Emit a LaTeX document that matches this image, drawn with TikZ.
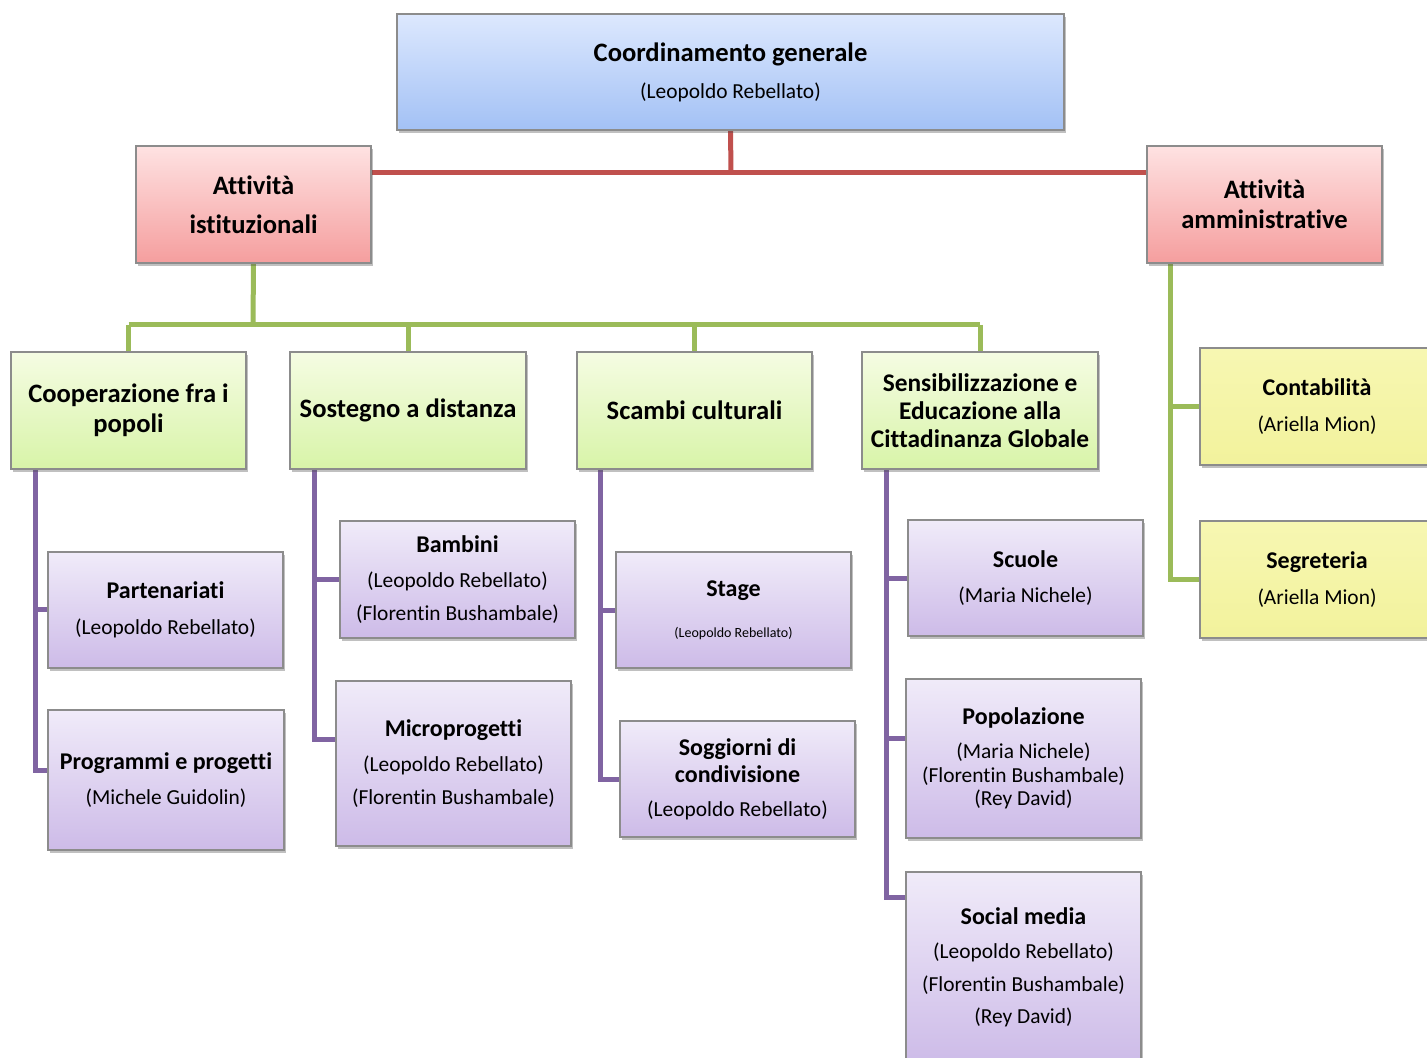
\documentclass[tikz,border=0pt]{standalone}
\usepackage{fontspec}
\setmainfont{Carlito}[Ligatures={NoCommon}]
\usetikzlibrary{shadows,backgrounds}
\definecolor{blueT}{HTML}{DDE8FE}
\definecolor{blueB}{HTML}{A3C1F5}
\definecolor{redT}{HTML}{FEE2E2}
\definecolor{redB}{HTML}{F59E9E}
\definecolor{greenT}{HTML}{F5FCE3}
\definecolor{greenB}{HTML}{D8F4A8}
\definecolor{yelT}{HTML}{F7F7B2}
\definecolor{yelB}{HTML}{F2F29C}
\definecolor{purT}{HTML}{F0EBF9}
\definecolor{purB}{HTML}{CDBBE8}
\definecolor{bordergray}{HTML}{8C8C8C}
\definecolor{lineRed}{HTML}{C0504D}
\definecolor{lineGreen}{HTML}{9BBB59}
\definecolor{linePur}{HTML}{8064A2}
\tikzset{
  x=0.5pt, y=-0.5pt,
  box/.style={draw=bordergray, line width=0.6pt, inner sep=0pt, outer sep=0pt,
    align=center, font=\fontsize{10.7}{12}\selectfont,
    drop shadow={shadow xshift=1.2pt, shadow yshift=-1.5pt, opacity=0.35, fill=black!70}},
  bluebox/.style={box, top color=blueT, bottom color=blueB},
  redbox/.style={box, top color=redT, bottom color=redB},
  greenbox/.style={box, top color=greenT, bottom color=greenB},
  yelbox/.style={box, top color=yelT, bottom color=yelB},
  purbox/.style={box, top color=purT, bottom color=purB},
  redline/.style={draw=lineRed, line width=2.5pt},
  greenline/.style={draw=lineGreen, line width=2.5pt},
  purline/.style={draw=linePur, line width=2.5pt},
}
\newcommand\hd[1]{{\fontsize{13.3}{12}\selectfont\bfseries #1}}
\newcommand\hm[1]{{\fontsize{12.7}{12}\selectfont\bfseries #1}}
\newcommand\hs[1]{{\fontsize{12}{12}\selectfont\bfseries #1}}
\newcommand\orgbox[7]{\node[#2, minimum width={(#5-#3)*0.5pt}, minimum height={(#6-#4)*0.5pt}] (#1) at ({(#3+#5)/2},{(#4+#6)/2}) {#7};}
\begin{document}
\begin{tikzpicture}
\useasboundingbox (0,0) rectangle (1427,1058);
\clip (0,0) rectangle (1427,1058);

\orgbox{coord}{bluebox}{397}{14}{1064}{130}{\hd{Coordinamento generale}\\[6.5pt](Leopoldo Rebellato)}
\orgbox{ai}{redbox}{136}{146}{371}{263}{\hd{Attività}\\[7.5pt]\hd{istituzionali}}
\orgbox{aa}{redbox}{1147}{146}{1382}{263}{\hd{Attività}\\[3pt]\hd{amministrative}}

\orgbox{g1}{greenbox}{11}{352}{246}{469}{\hd{Cooperazione fra i}\\[3pt]\hd{popoli}}
\orgbox{g2}{greenbox}{290}{352}{526}{469}{\hd{Sostegno a distanza}}
\orgbox{g3}{greenbox}{577}{352}{812}{469}{\hd{Scambi culturali}}
\orgbox{g4}{greenbox}{862}{352}{1098}{469}{\hm{Sensibilizzazione e}\\[2pt]\hm{Educazione alla}\\[2pt]\hm{Cittadinanza Globale}}

\orgbox{y1}{yelbox}{1200}{348}{1434}{465}{\hs{Contabilità}\\[6pt](Ariella Mion)}
\orgbox{y2}{yelbox}{1200}{521}{1434}{638}{\hs{Segreteria}\\[6pt](Ariella Mion)}

\orgbox{part}{purbox}{48}{552}{283}{668}{\hs{Partenariati}\\[6pt](Leopoldo Rebellato)}
\orgbox{prog}{purbox}{48}{710}{284}{850}{\hs{Programmi e progetti}\\[5.5pt](Michele Guidolin)}
\orgbox{bamb}{purbox}{340}{521}{575}{638}{\hs{Bambini}\\[5.5pt](Leopoldo Rebellato)\\[4.5pt](Florentin Bushambale)}
\orgbox{micro}{purbox}{336}{681}{571}{846}{\hs{Microprogetti}\\[5.5pt](Leopoldo Rebellato)\\[4.5pt](Florentin Bushambale)}
\orgbox{stage}{purbox}{616}{552}{851}{668}{\hs{Stage}\\[8.5pt]{\fontsize{7}{8}\selectfont(Leopoldo Rebellato)}}
\orgbox{sogg}{purbox}{620}{721}{855}{837}{\hs{Soggiorni di}\\[1.5pt]\hs{condivisione}\\[5pt](Leopoldo Rebellato)}
\orgbox{scuole}{purbox}{908}{520}{1143}{636}{\hs{Scuole}\\[5.5pt](Maria Nichele)}
\orgbox{popol}{purbox}{906}{679}{1141}{838}{\hs{Popolazione}\\[5pt](Maria Nichele)\\[0pt](Florentin Bushambale)\\[-0.5pt](Rey David)}
\orgbox{social}{purbox}{906}{872}{1141}{1063}{\hs{Social media}\\[5pt](Leopoldo Rebellato)\\[4.5pt](Florentin Bushambale)\\[4pt](Rey David)}

\coordinate (rj) at (731,173);
\coordinate (gj) at (253,325);
\coordinate (aj) at (1170,263);
\coordinate (p1) at (35,469);
\coordinate (p2) at (314,469);
\coordinate (p3) at (600,469);
\coordinate (p4) at (886,469);
\coordinate (b11) at (35,609);
\coordinate (b12) at (35,770);
\coordinate (b21) at (314,579);
\coordinate (b22) at (314,739);
\coordinate (b31) at (600,610);
\coordinate (b32) at (600,779);
\coordinate (b41) at (886,578);
\coordinate (b42) at (886,738);
\coordinate (b43) at (886,897);

\begin{scope}[on background layer]
\fill[white] (0,0) rectangle (1427,1058);
\draw[redline] (coord.south) -- (rj);
\draw[redline] (ai.east |- rj) -- (aa.west |- rj);
\draw[greenline] (ai.south) -- (gj);
\draw[greenline] (g1.north |- gj) -- (g4.north |- gj);
\foreach \g in {g1,g2,g3,g4} \draw[greenline] (\g.north |- gj) -- (\g.north);
\draw[greenline] (aj) |- (y2.west);
\draw[greenline] (aj |- y1.west) -- (y1.west);
\draw[purline] (p1) -- (b12) -- (prog.west |- b12);
\draw[purline] (b11) -- (part.west |- b11);
\draw[purline] (p2) -- (b22) -- (micro.west |- b22);
\draw[purline] (b21) -- (bamb.west |- b21);
\draw[purline] (p3) -- (b32) -- (sogg.west |- b32);
\draw[purline] (b31) -- (stage.west |- b31);
\draw[purline] (p4) -- (b43) -- (social.west |- b43);
\draw[purline] (b41) -- (scuole.west |- b41);
\draw[purline] (b42) -- (popol.west |- b42);
\end{scope}
\end{tikzpicture}
\end{document}
